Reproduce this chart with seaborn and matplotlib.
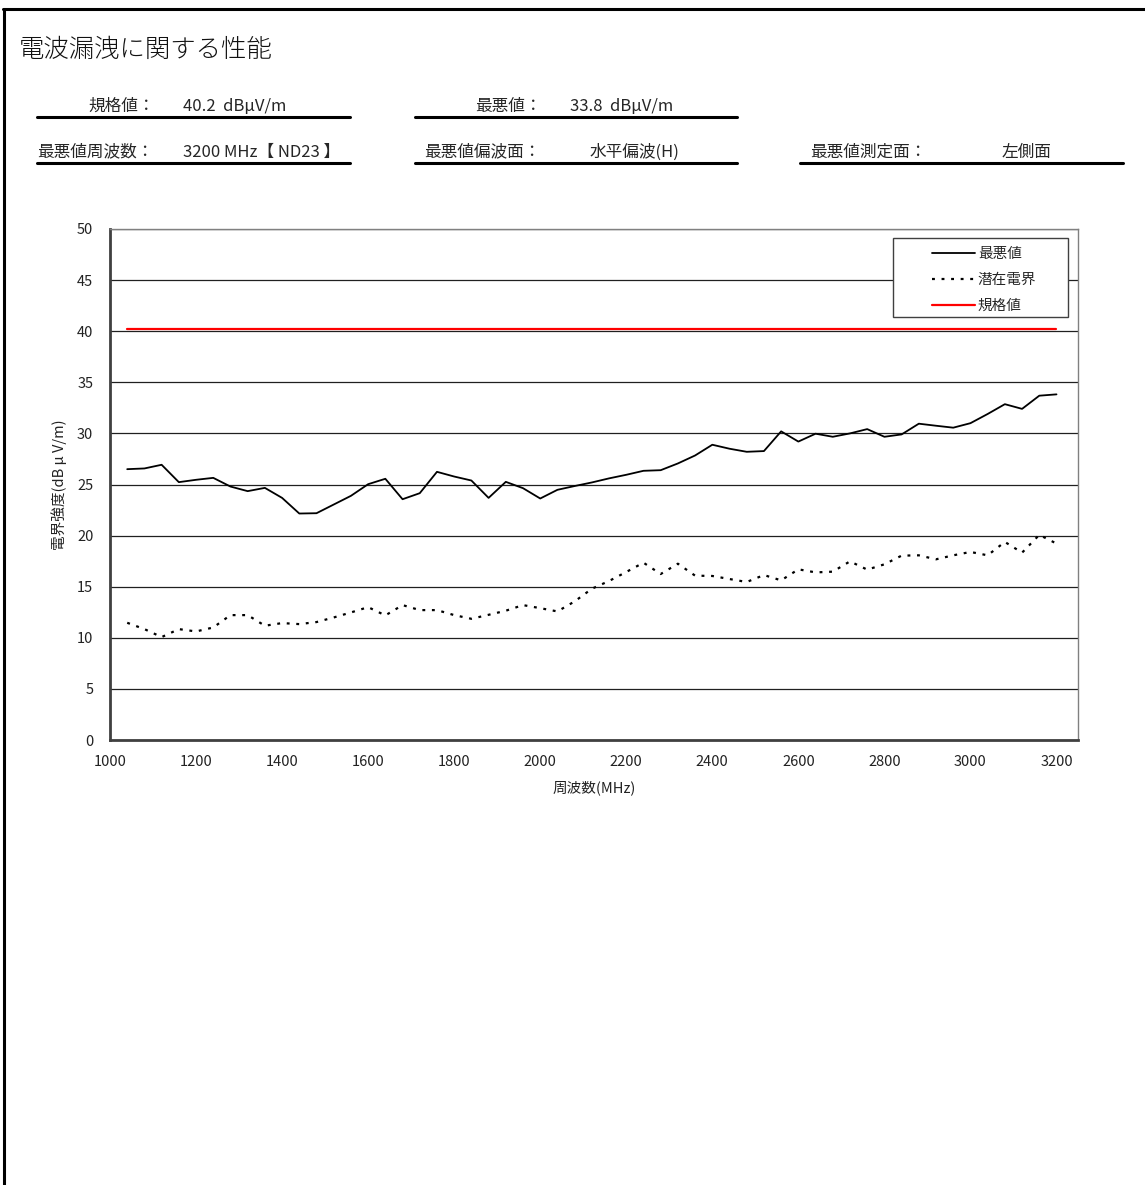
import numpy as np
import pandas as pd
import matplotlib
matplotlib.use("Agg")
import matplotlib.pyplot as plt
from matplotlib.lines import Line2D
from matplotlib.patches import Rectangle
import seaborn as sns

# ---------------- data ----------------
freq_start = 1040
freq_step = 40
worst = [26.5, 26.57, 26.93, 25.23, 25.46, 25.65, 24.8, 24.35, 24.67, 23.69,
         22.16, 22.19, 23.04, 23.89, 25.03, 25.56, 23.56, 24.15, 26.24, 25.78,
         25.39, 23.69, 25.26, 24.64, 23.63, 24.48, 24.85, 25.2, 25.6, 25.95,
         26.34, 26.4, 27.06, 27.84, 28.89, 28.5, 28.2, 28.27, 30.2, 29.2,
         29.97, 29.67, 30.0, 30.42, 29.67, 29.9, 30.95, 30.75, 30.56, 31.0,
         31.9, 32.86, 32.4, 33.69, 33.82]
potential = [11.47, 10.85, 10.07, 10.85, 10.62, 11.01, 12.22, 12.22, 11.18, 11.44,
             11.34, 11.54, 11.99, 12.48, 13.0, 12.19, 13.2, 12.71, 12.71, 12.22,
             11.86, 12.25, 12.65, 13.2, 12.9, 12.58, 13.56, 14.8, 15.56, 16.44,
             17.35, 16.24, 17.25, 16.08, 16.05, 15.75, 15.46, 16.14, 15.62, 16.7,
             16.4, 16.47, 17.48, 16.67, 17.19, 18.04, 18.07, 17.68, 18.07, 18.4,
             18.07, 19.38, 18.33, 20.07, 19.22]
limit_value = 40.2
freq = [freq_start + freq_step * i for i in range(len(worst))]
limit = [limit_value] * len(freq)

series_names = ["最悪値", "潜在電界", "規格値"]
x_ticks = [1000, 1200, 1400, 1600, 1800, 2000, 2200, 2400, 2600, 2800, 3000, 3200]
y_ticks = [0, 5, 10, 15, 20, 25, 30, 35, 40, 45, 50]

title_text = "電波漏洩に関する性能"
x_label = "周波数(MHz)"
y_label = "電界強度(dB μ V/m)"

# ---------------- style ----------------
sns.set_theme(style="white")
plt.rcParams["font.family"] = ["Noto Sans CJK JP", "DejaVu Sans"]

W, H = 1145, 1185
fig = plt.figure(figsize=(W / 100, H / 100), dpi=100)

def fx(px):
    return px / W

def fy(py):
    return 1 - py / H

AX_L, AX_R, AX_T, AX_B = 110, 1078, 229, 740
ax = fig.add_axes([fx(AX_L), fy(AX_B), fx(AX_R) - fx(AX_L), fy(AX_T) - fy(AX_B)])

def axx(px):
    return (px - AX_L) / (AX_R - AX_L)

def axy(py):
    return (AX_B - py) / (AX_B - AX_T)

df = pd.DataFrame({"freq": freq, "worst": worst, "potential": potential, "limit": limit})

sns.lineplot(data=df, x="freq", y="worst", ax=ax, color="black", lw=1.3)
sns.lineplot(data=df, x="freq", y="potential", ax=ax, color="black", lw=1.6)
ax.lines[-1].set_dashes((1.3, 3.0))
sns.lineplot(data=df, x="freq", y="limit", ax=ax, color="#ff0000", lw=1.6)

ax.set_xlim(1000, 3250)
ax.set_ylim(0, 50)
ax.set_xticks(x_ticks)
ax.set_yticks(y_ticks)
ax.yaxis.grid(True, color="#202020", lw=0.9)
ax.xaxis.grid(False)
ax.set_axisbelow(True)

ax.tick_params(axis="x", direction="in", length=5, width=1, color="#202020",
               labelsize=10.5, pad=11)
ax.tick_params(axis="y", direction="out", length=4, width=1, color="#404040",
               labelsize=10.5, pad=8)
for lab in ax.get_xticklabels() + ax.get_yticklabels():
    lab.set_color("#222222")

for side in ["left", "bottom"]:
    ax.spines[side].set_color("#404040")
    ax.spines[side].set_linewidth(2.0)
for side in ["top", "right"]:
    ax.spines[side].set_color("#808080")
    ax.spines[side].set_linewidth(1.0)
    ax.spines[side].set_visible(True)

ax.set_xlabel(x_label, fontsize=10.5, labelpad=8, color="#222222")
ax.set_ylabel(y_label, fontsize=10.5, labelpad=7, color="#222222")

# legend box
box = Rectangle((axx(893), axy(317)), axx(1068) - axx(893), axy(238) - axy(317),
                transform=ax.transAxes, facecolor="white", edgecolor="#404040",
                lw=1.0, zorder=4)
ax.add_patch(box)

handles = [Line2D([], [], color="black", lw=1.3),
           Line2D([], [], color="black", lw=1.6, dashes=(1.3, 3.0)),
           Line2D([], [], color="#ff0000", lw=1.6)]
leg = ax.legend(handles, series_names, loc="upper left",
                bbox_to_anchor=(axx(932), axy(247)), frameon=False,
                fontsize=10.5, handlelength=2.95, handletextpad=0.2,
                borderpad=0.0, labelspacing=0.82, borderaxespad=0.0)
leg.set_zorder(5)

# ---------------- header ----------------
fig.text(fx(19), fy(50), title_text, fontsize=18.3, fontweight="light",
         va="center", ha="left", color="#111111")

def header_line(x0, x1, y):
    fig.add_artist(Line2D([fx(x0), fx(x1)], [fy(y), fy(y)], color="black",
                          lw=2.2, transform=fig.transFigure))

hdr = 12
fig.text(fx(88), fy(106), "規格値：", fontsize=hdr, va="center", ha="left")
fig.text(fx(183), fy(106), "40.2  dBμV/m", fontsize=hdr, va="center", ha="left")
header_line(37, 350, 117)
fig.text(fx(475), fy(106), "最悪値：", fontsize=hdr, va="center", ha="left")
fig.text(fx(570), fy(106), "33.8  dBμV/m", fontsize=hdr, va="center", ha="left")
header_line(415, 737, 117)

fig.text(fx(37), fy(152), "最悪値周波数：", fontsize=hdr, va="center", ha="left")
fig.text(fx(183), fy(152), "3200 MHz【 ND23 】", fontsize=hdr, va="center", ha="left")
header_line(37, 350, 163)
fig.text(fx(424), fy(152), "最悪値偏波面：", fontsize=hdr, va="center", ha="left")
fig.text(fx(590), fy(152), "水平偏波(H)", fontsize=hdr, va="center", ha="left")
header_line(415, 737, 163)
fig.text(fx(810), fy(152), "最悪値測定面：", fontsize=hdr, va="center", ha="left")
fig.text(fx(1002), fy(152), "左側面", fontsize=hdr, va="center", ha="left")
header_line(800, 1123, 163)

# page frame (top and left edges)
fig.add_artist(Line2D([fx(3), fx(W)], [fy(9), fy(9)], color="black", lw=2.2,
                      transform=fig.transFigure))
fig.add_artist(Line2D([fx(4), fx(4)], [fy(9), 0], color="black", lw=2.2,
                      transform=fig.transFigure))

fig.savefig("out.png", dpi=100, facecolor="white")
